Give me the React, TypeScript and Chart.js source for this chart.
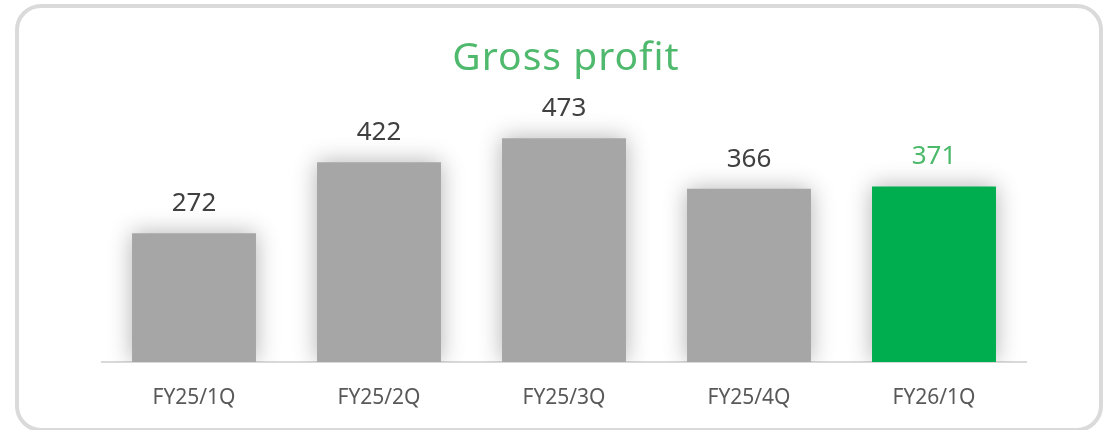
import React, { useEffect, useRef } from "react";
import { Chart, registerables } from "chart.js";

Chart.register(...registerables);

const titleText = "Gross profit";
const categories = ["FY25/1Q", "FY25/2Q", "FY25/3Q", "FY25/4Q", "FY26/1Q"];
const grossProfit = [272, 422, 473, 366, 371];
const barColors = ["#a6a6a6", "#a6a6a6", "#a6a6a6", "#a6a6a6", "#00ad4f"];
const labelColors = ["#404040", "#404040", "#404040", "#404040", "#4cb96b"];
const yMax = 560;

const FONT = "'Noto Sans', 'Open Sans', sans-serif";

const shadowPlugin = {
  id: "barShadow",
  beforeDatasetsDraw(chart: any) {
    const ctx = chart.ctx;
    ctx.save();
    ctx.shadowColor = "rgba(0,0,0,0.30)";
    ctx.shadowBlur = 22;
    ctx.shadowOffsetX = 0;
    ctx.shadowOffsetY = 0;
  },
  afterDatasetsDraw(chart: any) {
    chart.ctx.restore();
  },
};

const labelPlugin = {
  id: "valueLabels",
  afterDraw(chart: any) {
    const ctx = chart.ctx;
    const meta = chart.getDatasetMeta(0);
    ctx.save();
    ctx.font = `26px ${FONT}`;
    ctx.textAlign = "center";
    ctx.textBaseline = "alphabetic";
    meta.data.forEach((bar: any, i: number) => {
      ctx.fillStyle = labelColors[i];
      ctx.fillText(String(grossProfit[i]), bar.x, bar.y - 22);
    });
    const ca = chart.chartArea;
    ctx.font = `39px ${FONT}`;
    ctx.fillStyle = "#4fb96d";
    (ctx as any).letterSpacing = "1px";
    ctx.fillText(titleText, (ca.left + ca.right) / 2 + 2, 70);
    ctx.restore();
  },
};

export default function App() {
  const ref = useRef<HTMLCanvasElement>(null);
  useEffect(() => {
    if (!ref.current) return;
    const chart = new Chart(ref.current, {
      type: "bar",
      data: {
        labels: categories,
        datasets: [
          {
            data: grossProfit,
            backgroundColor: barColors,
            borderWidth: 0,
            barPercentage: 0.67,
            categoryPercentage: 1,
          },
        ],
      },
      options: {
        responsive: false,
        animation: false,
        devicePixelRatio: 1,
        layout: { padding: { left: 101.5, right: 82.5, top: 97, bottom: 0 } },
        plugins: {
          legend: { display: false },
          title: { display: false },
          tooltip: { enabled: false },
        },
        scales: {
          x: {
            grid: { display: false, drawTicks: false },
            border: { display: true, color: "#d9d9d9", width: 2 },
            ticks: {
              color: "#595959",
              font: { family: FONT, size: 21 },
              padding: 23,
              maxRotation: 0,
            },
            afterFit(scale: any) {
              scale.height = 68;
            },
          },
          y: {
            display: false,
            min: 0,
            max: yMax,
          },
        },
      },
      plugins: [shadowPlugin, labelPlugin],
    });
    return () => chart.destroy();
  }, []);

  return (
    <div
      style={{
        position: "absolute",
        left: 0,
        top: 0,
        width: 1109,
        height: 430,
        background: "#fff",
        overflow: "hidden",
      }}
    >
      <canvas ref={ref} width={1109} height={430} style={{ position: "absolute", left: 0, top: 0 }} />
      <div
        style={{
          position: "absolute",
          left: 15,
          top: 4,
          width: 1088,
          height: 428,
          boxSizing: "border-box",
          border: "4px solid #dadada",
          borderRadius: 26,
          pointerEvents: "none",
        }}
      />
    </div>
  );
}
